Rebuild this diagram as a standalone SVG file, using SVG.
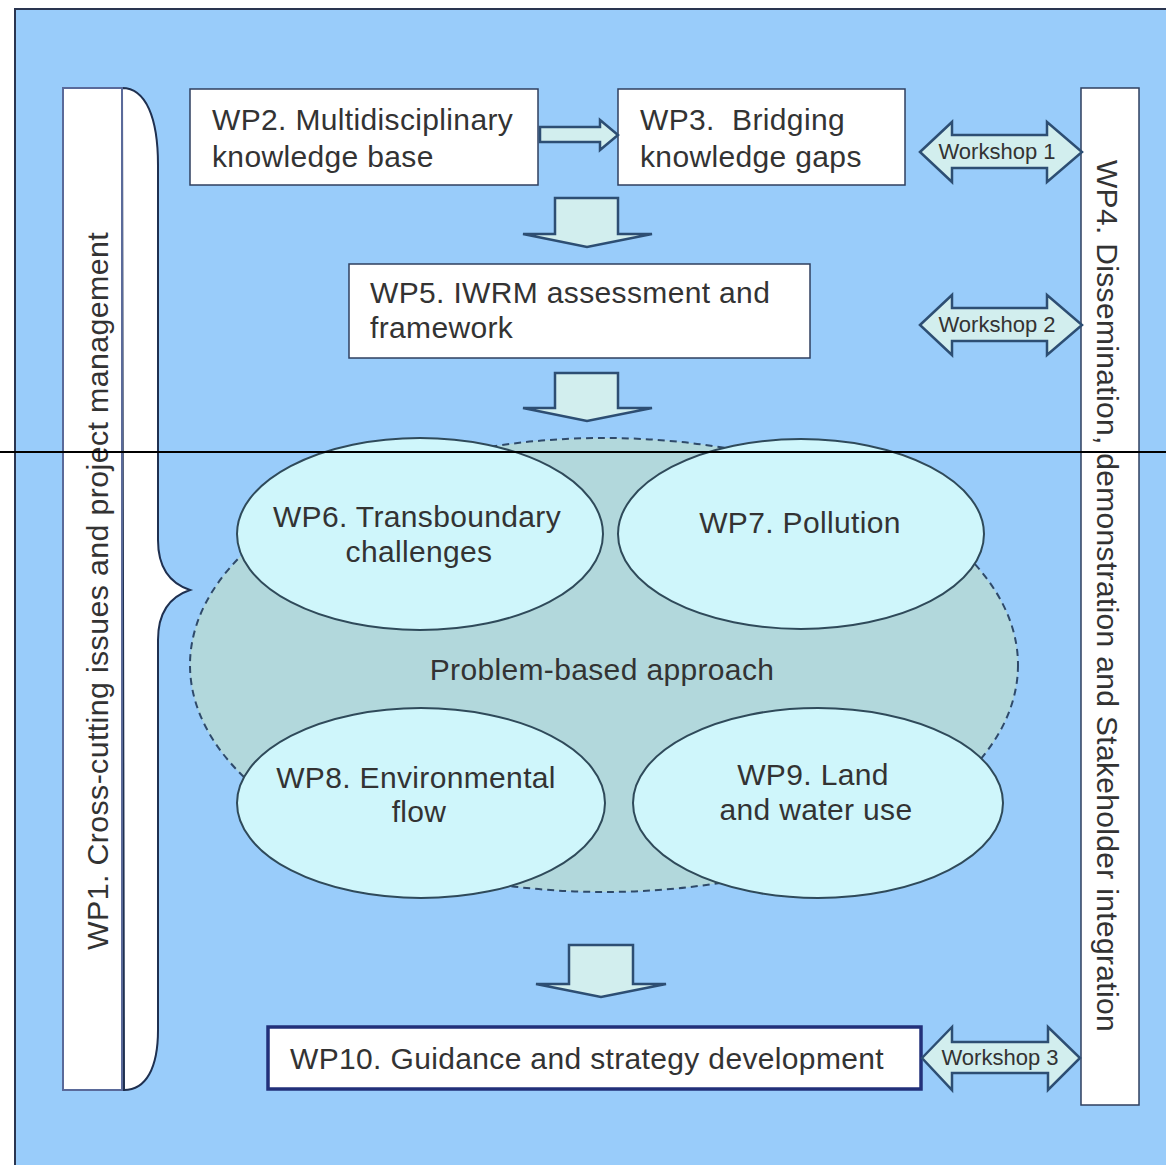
<svg xmlns="http://www.w3.org/2000/svg" width="1166" height="1165" viewBox="0 0 1166 1165">
<style>
  text { font-family: "Liberation Sans", Arial, sans-serif; fill: #333; }
  .t { font-size: 30px; letter-spacing: 0.35px; }
  .ws { font-size: 22px; text-anchor: middle; }
  .box { fill: #ffffff; stroke: #2f3f5f; stroke-width: 1.5; }
  .ell { fill: #cff6fb; stroke: #2f4a5a; stroke-width: 2; }
  .arr { fill: #d2eeee; stroke: #2d4e73; stroke-width: 2.5; stroke-linejoin: miter; }
</style>
<rect x="0" y="0" width="1166" height="1165" fill="#ffffff"/>
<rect x="15" y="9" width="1160" height="1170" fill="#99ccfa" stroke="#2a3550" stroke-width="2"/>

<g id="wp1">
  <path d="M122,88 C146,88 158,118 158,165 L158,540 C158,570 172,584 190,590 C172,596 158,610 158,640 L158,1030 C158,1068 146,1090 124,1090 Z" fill="#ffffff" stroke="#1f3050" stroke-width="2"/>
  <rect x="63" y="88" width="59" height="1002" fill="#ffffff" stroke="#5a6a9a" stroke-width="2"/>
  <text class="t" transform="translate(108,591) rotate(-90)" text-anchor="middle" font-size="29" textLength="718" lengthAdjust="spacingAndGlyphs">WP1. Cross-cutting issues and project management</text>
</g>

<g id="wp4">
  <rect x="1081" y="88" width="58" height="1017" class="box"/>
  <text class="t" transform="translate(1097,596) rotate(90)" text-anchor="middle" font-size="29" textLength="872" lengthAdjust="spacingAndGlyphs">WP4. Dissemination, demonstration and Stakeholder integration</text>
</g>

<g id="problem-based">
  <ellipse cx="604" cy="665" rx="414" ry="227" fill="#b2d8dc" stroke="#2f4a6a" stroke-width="2" stroke-dasharray="7,5"/>
  <text class="t" x="602" y="680" text-anchor="middle">Problem-based approach</text>
</g>

<g id="wp6">
  <ellipse cx="420" cy="534" rx="183" ry="96" class="ell"/>
  <text class="t" x="417" y="527" text-anchor="middle">WP6. Transboundary</text>
  <text class="t" x="419" y="562" text-anchor="middle">challenges</text>
</g>
<g id="wp7">
  <ellipse cx="801" cy="534" rx="183" ry="95" class="ell"/>
  <text class="t" x="800" y="533" text-anchor="middle">WP7. Pollution</text>
</g>
<g id="wp8">
  <ellipse cx="421" cy="803" rx="184" ry="95" class="ell"/>
  <text class="t" x="416" y="788" text-anchor="middle">WP8. Environmental</text>
  <text class="t" x="419" y="822" text-anchor="middle">flow</text>
</g>
<g id="wp9">
  <ellipse cx="818" cy="803" rx="185" ry="95" class="ell"/>
  <text class="t" x="813" y="785" text-anchor="middle">WP9. Land</text>
  <text class="t" x="816" y="820" text-anchor="middle">and water use</text>
</g>

<g id="wp2">
  <rect x="190" y="89" width="348" height="96" class="box"/>
  <text class="t" x="212" y="130">WP2. Multidisciplinary</text>
  <text class="t" x="212" y="167">knowledge base</text>
</g>
<g id="wp3">
  <rect x="618" y="89" width="287" height="96" class="box"/>
  <text class="t" x="640" y="130" xml:space="preserve">WP3.  Bridging</text>
  <text class="t" x="640" y="167">knowledge gaps</text>
</g>
<g id="wp5">
  <rect x="349" y="264" width="461" height="94" class="box"/>
  <text class="t" x="370" y="303">WP5. IWRM assessment and</text>
  <text class="t" x="370" y="338">framework</text>
</g>
<g id="wp10">
  <rect x="268" y="1027" width="653" height="62" fill="#ffffff" stroke="#22307a" stroke-width="3.5"/>
  <text class="t" x="290" y="1069">WP10. Guidance and strategy development</text>
</g>

<g id="connectors">
  <path class="arr" d="M540,127 L600,127 L600,120 L618,135 L600,150 L600,142 L540,142 Z"/>
  <path class="arr" d="M555,198 L618,198 L618,234 L652,234 L587,247 L523,234 L555,234 Z"/>
  <path class="arr" d="M555,373 L618,373 L618,408 L652,408 L587,421 L523,408 L555,408 Z"/>
  <path class="arr" d="M569,945 L633,945 L633,984 L666,984 L601,997 L536,984 L569,984 Z"/>
  <g id="workshop1">
    <path class="arr" d="M920,152 L952,122 L952,135 L1047,135 L1047,122 L1082,152 L1047,182 L1047,168 L952,168 L952,182 Z"/>
    <text class="ws" x="997" y="159">Workshop 1</text>
  </g>
  <g id="workshop2">
    <path class="arr" d="M920,325 L952,295 L952,308 L1047,308 L1047,295 L1082,325 L1047,355 L1047,341 L952,341 L952,355 Z"/>
    <text class="ws" x="997" y="332">Workshop 2</text>
  </g>
  <g id="workshop3">
    <path class="arr" d="M922,1058 L952,1027 L952,1042 L1048,1042 L1048,1027 L1080,1058 L1048,1090 L1048,1073 L952,1073 L952,1090 Z"/>
    <text class="ws" x="1000" y="1065">Workshop 3</text>
  </g>
</g>

<line x1="0" y1="452" x2="1166" y2="452" stroke="#000000" stroke-width="2"/>
</svg>
